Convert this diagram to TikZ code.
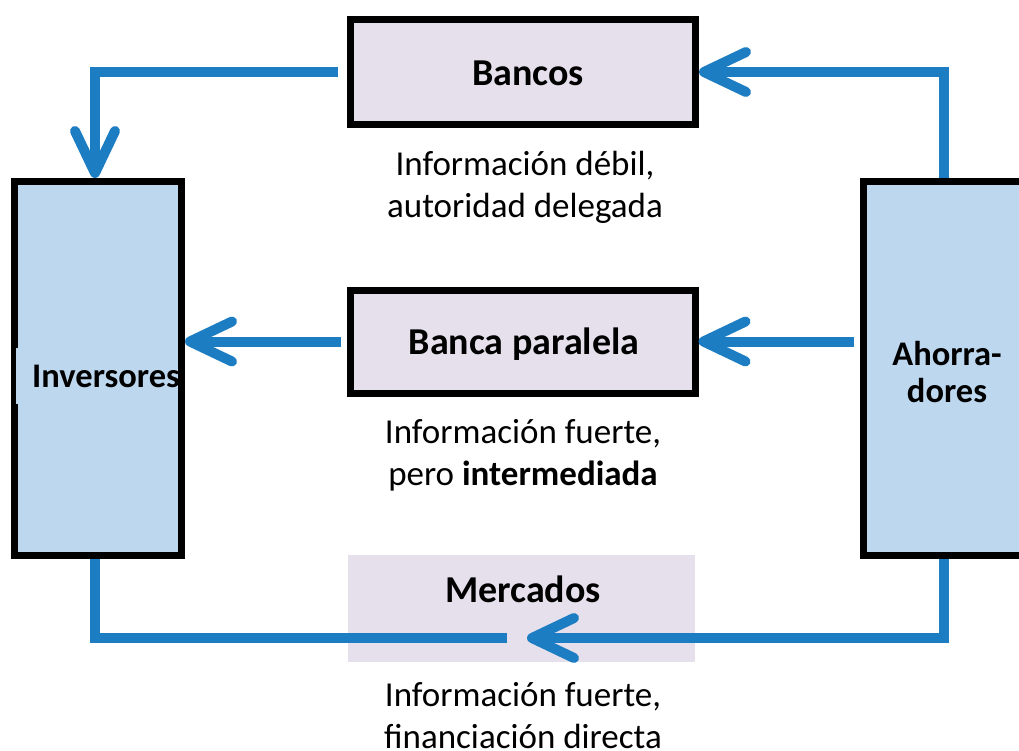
\documentclass[tikz,border=0pt]{standalone}
\usepackage{fontspec}
\setmainfont{Carlito}
\usetikzlibrary{arrows.meta}
\definecolor{lav}{HTML}{E6E0EC}
\definecolor{lblue}{HTML}{BDD7EE}
\definecolor{flowc}{RGB}{28,125,195}
\tikzset{
  boxst/.style={draw=black, line width=7pt, inner sep=0pt, rectangle},
  flow/.style={draw=flowc, line width=10pt, line join=miter, line cap=butt},
  flowar/.style={flow, -{Straight Barb[length=42pt, width=40pt, round]}},
  boldt/.style={font=\fontsize{38}{42}\selectfont\bfseries, inner sep=0pt},
  lbl/.style={font=\fontsize{35}{42}\selectfont, align=center, inner sep=0pt},
}
\begin{document}
\begin{tikzpicture}[x=1pt, y=-1pt]
\useasboundingbox (0,0) rectangle (1019,751);
\clip (0,0) rectangle (1019,751);
\fill[white] (0,0) rectangle (1019,751);
% boxes
\node[boxst, fill=lblue, minimum width=167pt, minimum height=374pt] (inv) at (98,368.5) {};
\node[boxst, fill=lblue, minimum width=167pt, minimum height=374pt] (aho) at (946.5,368.5) {};
\node[boxst, fill=lav, minimum width=345.5pt, minimum height=105pt] (bancos) at (522.75,72) {};
\node[boxst, fill=lav, minimum width=345pt, minimum height=103pt] (par) at (522.5,341.5) {};
\node[fill=lav, draw=none, inner sep=0pt, minimum width=347pt, minimum height=107pt] (merc) at (521.5,608.5) {};
\fill[lblue] (16,348) rectangle (18.5,404);
% texts
\node[boldt, anchor=base] (bancos-t) at (528,86) {Bancos};
\node[boldt, anchor=base] (par-t) at (524,354) {Banca paralela};
\node[boldt, anchor=base] (merc-t) at (523,602) {Mercados};
\node[boldt, anchor=base west, font=\fontsize{34.5}{42}\selectfont\bfseries] (inv-t) at (32,387) {Inversores};
\node[boldt, align=center, font=\fontsize{34.5}{37}\selectfont\bfseries] (aho-t) at (947,372) {Ahorra-\\dores};
\node[lbl] (l1) at (525,187) {Información débil,\\autoridad delegada};
\node[lbl] (l2) at (523,455) {Información fuerte,\\pero \textbf{intermediada}};
\node[lbl] (l3) at (523,716) {Información fuerte,\\financiación directa};
% connectors
\coordinate (mtip) at (527,638);
\coordinate (mtail) at (507,638);
\draw[flowar] ([xshift=-2.5pt]aho.north) |- (bancos.east);
\draw[flowar] ([xshift=-9pt]bancos.west) -| ([xshift=-3pt]inv.north);
\draw[flowar] ([xshift=-6pt]aho.west |- par.east) -- (par.east);
\draw[flowar] ([xshift=-6pt]par.west) -- (inv.east |- par.west);
\draw[flowar] ([xshift=-3pt]aho.south) |- (mtip);
\draw[flow] (mtail) -| ([xshift=-3pt]inv.south);
\end{tikzpicture}
\end{document}
